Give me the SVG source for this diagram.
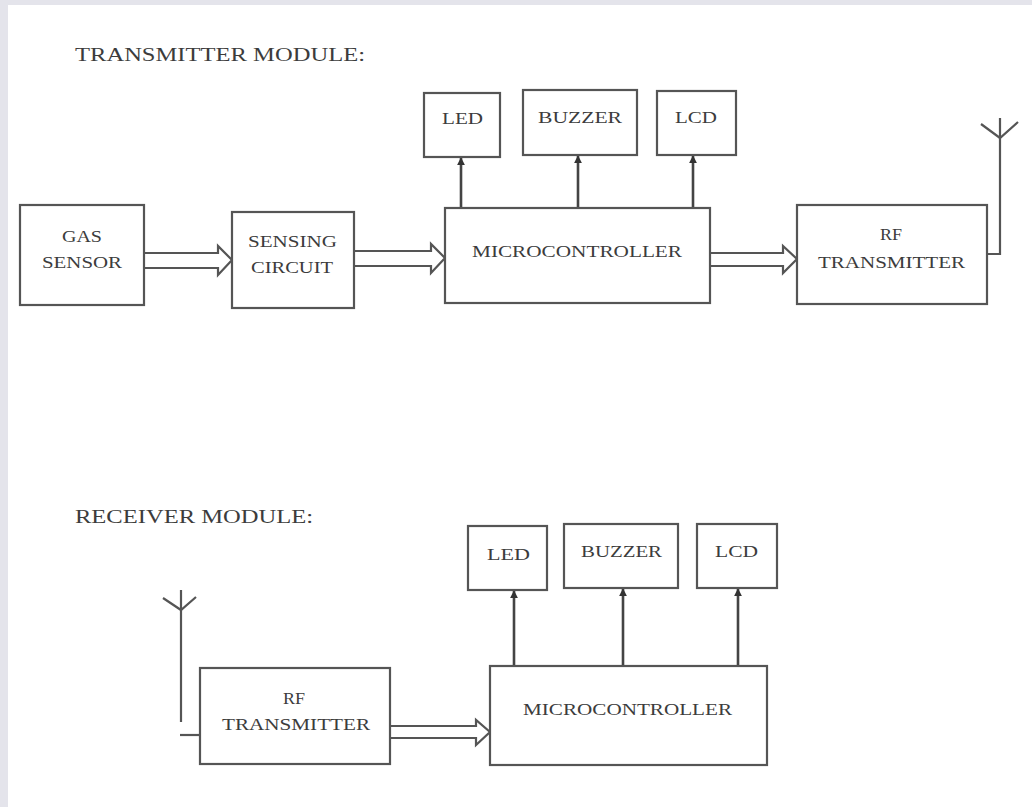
<svg xmlns="http://www.w3.org/2000/svg" width="1032" height="807" viewBox="0 0 1032 807">
<defs>
<style>
.box{fill:#fff;stroke:#555;stroke-width:2.2}
.ln{fill:none;stroke:#555;stroke-width:2.2}
.vl{fill:none;stroke:#444;stroke-width:2.6}
.bar{fill:none;stroke:#555;stroke-width:2.2;stroke-linejoin:miter}
.t{font-family:"Liberation Serif","Times New Roman",serif;font-size:17px;fill:#3c3c3c}
.h{font-family:"Liberation Serif","Times New Roman",serif;font-size:18px;fill:#3c3c3c}
</style>
<marker id="ah" viewBox="0 0 10 10" refX="9" refY="5" markerWidth="8" markerHeight="8" markerUnits="userSpaceOnUse" orient="auto">
<path d="M0,0 L10,5 L0,10 z" fill="#333"/>
</marker>
</defs>
<rect x="0" y="0" width="1032" height="807" fill="#fff"/>
<rect x="0" y="0" width="1032" height="5" fill="#e4e4eb"/>
<rect x="0" y="0" width="8" height="807" fill="#e4e4eb"/>

<text class="h" x="75" y="61" textLength="290" lengthAdjust="spacingAndGlyphs">TRANSMITTER MODULE:</text>
<text class="h" x="75" y="523" textLength="238" lengthAdjust="spacingAndGlyphs">RECEIVER MODULE:</text>

<g id="connectors">
<polyline class="bar" points="144,253 218,253 218,246 232,260 218,275 218,268 144,268"/>
<polyline class="bar" points="354,251 431,251 431,244 445,258 431,273 431,266 354,266"/>
<polyline class="bar" points="710,253 783,253 783,246 797,259 783,273 783,266 710,266"/>
<polyline class="bar" points="390,726 476,726 476,720 490,732 476,745 476,738 390,738"/>
<line class="vl" x1="461" y1="208" x2="461" y2="158" marker-end="url(#ah)"/>
<line class="vl" x1="578" y1="208" x2="578" y2="156" marker-end="url(#ah)"/>
<line class="vl" x1="693" y1="208" x2="693" y2="156" marker-end="url(#ah)"/>
<line class="vl" x1="514" y1="666" x2="514" y2="591" marker-end="url(#ah)"/>
<line class="vl" x1="623" y1="666" x2="623" y2="589" marker-end="url(#ah)"/>
<line class="vl" x1="738" y1="666" x2="738" y2="589" marker-end="url(#ah)"/>
</g>

<g id="antenna-tx">
<polyline class="ln" points="987,254 1000,254 1000,118"/>
<polyline class="ln" points="981,124 1000,138 1018,122"/>
</g>
<g id="antenna-rx">
<line class="ln" x1="181" y1="590" x2="181" y2="722"/>
<polyline class="ln" points="163,598 181,610 196,597"/>
<line class="ln" x1="180" y1="735" x2="201" y2="735"/>
</g>

<g id="gas-sensor">
<rect class="box" x="20" y="205" width="124" height="100"/>
<text class="t" x="62" y="242" textLength="40" lengthAdjust="spacingAndGlyphs">GAS</text>
<text class="t" x="42" y="268" textLength="80" lengthAdjust="spacingAndGlyphs">SENSOR</text>
</g>
<g id="sensing-circuit">
<rect class="box" x="232" y="212" width="122" height="96"/>
<text class="t" x="248" y="247" textLength="89" lengthAdjust="spacingAndGlyphs">SENSING</text>
<text class="t" x="251" y="273" textLength="82" lengthAdjust="spacingAndGlyphs">CIRCUIT</text>
</g>
<g id="microcontroller-tx">
<rect class="box" x="445" y="208" width="265" height="95"/>
<text class="t" x="472" y="257" textLength="210" lengthAdjust="spacingAndGlyphs">MICROCONTROLLER</text>
</g>
<g id="led-tx">
<rect class="box" x="424" y="93" width="76" height="64"/>
<text class="t" x="442" y="124" textLength="41" lengthAdjust="spacingAndGlyphs">LED</text>
</g>
<g id="buzzer-tx">
<rect class="box" x="523" y="90" width="114" height="65"/>
<text class="t" x="538" y="123" textLength="84" lengthAdjust="spacingAndGlyphs">BUZZER</text>
</g>
<g id="lcd-tx">
<rect class="box" x="657" y="91" width="79" height="64"/>
<text class="t" x="675" y="123" textLength="42" lengthAdjust="spacingAndGlyphs">LCD</text>
</g>
<g id="rf-transmitter-tx">
<rect class="box" x="797" y="205" width="190" height="99"/>
<text class="t" x="880" y="240" textLength="22" lengthAdjust="spacingAndGlyphs">RF</text>
<text class="t" x="818" y="268" textLength="147" lengthAdjust="spacingAndGlyphs">TRANSMITTER</text>
</g>

<g id="rf-transmitter-rx">
<rect class="box" x="200" y="668" width="190" height="96"/>
<text class="t" x="283" y="704" textLength="22" lengthAdjust="spacingAndGlyphs">RF</text>
<text class="t" x="222" y="730" textLength="148" lengthAdjust="spacingAndGlyphs">TRANSMITTER</text>
</g>
<g id="microcontroller-rx">
<rect class="box" x="490" y="666" width="277" height="99"/>
<text class="t" x="523" y="715" textLength="209" lengthAdjust="spacingAndGlyphs">MICROCONTROLLER</text>
</g>
<g id="led-rx">
<rect class="box" x="468" y="526" width="79" height="64"/>
<text class="t" x="487" y="560" textLength="43" lengthAdjust="spacingAndGlyphs">LED</text>
</g>
<g id="buzzer-rx">
<rect class="box" x="564" y="524" width="114" height="64"/>
<text class="t" x="581" y="557" textLength="81" lengthAdjust="spacingAndGlyphs">BUZZER</text>
</g>
<g id="lcd-rx">
<rect class="box" x="697" y="524" width="80" height="64"/>
<text class="t" x="715" y="557" textLength="43" lengthAdjust="spacingAndGlyphs">LCD</text>
</g>
</svg>
